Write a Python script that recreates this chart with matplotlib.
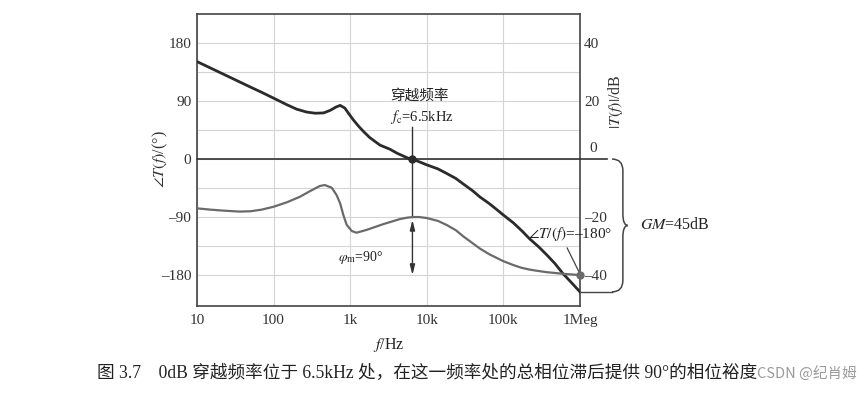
import numpy as np
import matplotlib
matplotlib.use("Agg")
import matplotlib.pyplot as plt
from matplotlib.path import Path
from matplotlib.patches import PathPatch
import matplotlib.transforms as mtransforms

plt.rcParams["font.family"] = ["Liberation Serif", "Noto Sans CJK SC"]
plt.rcParams["mathtext.fontset"] = "stix"

# ── DATA ──────────────────────────────────────────────────────────────────────
mag_freq = [10, 15, 22, 30, 50, 70, 100, 150, 200, 270, 350, 450, 550, 650,
            740, 850, 950, 1100, 1300, 1480, 1800, 2450, 3300, 4100, 5700,
            6500, 10e3, 14e3, 18e3, 24e3, 30e3, 40e3, 49e3, 65e3, 80e3, 100e3,
            135e3, 175e3, 220e3, 290e3, 367e3, 470e3, 600e3, 780e3, 1e6]
mag_db = [33.6, 31.4, 29.3, 27.6, 24.8, 23.0, 21.0, 18.7, 17.2, 16.2, 15.8,
          15.9, 16.8, 17.9, 18.5, 17.6, 15.8, 13.5, 11.2, 9.6, 7.4, 4.8, 3.4,
          2.0, 0.3, 0.0, -2.0, -3.4, -4.9, -6.7, -8.6, -11.0, -13.0, -15.3,
          -17.2, -19.3, -22.0, -24.8, -27.5, -30.3, -33.0, -36.0, -39.5,
          -42.7, -45.8]

ph_freq = [10, 15, 22, 36, 50, 70, 100, 150, 221, 300, 400, 465, 575, 665,
           740, 815, 900, 1050, 1210, 1630, 2700, 4500, 5500, 6500, 8000,
           10e3, 14e3, 18e3, 24e3, 30e3, 49e3, 65e3, 100e3, 135e3, 170e3,
           220e3, 280e3, 367e3, 600e3, 1e6]
ph_deg = [-76.5, -78.5, -80.0, -81.5, -81.0, -78.5, -74.0, -67.0, -58.5,
          -49.7, -41.9, -40.3, -44.5, -55.9, -68.8, -86.9, -102.0, -111.7,
          -114.3, -110.0, -101.0, -93.0, -91.0, -90.0, -90.0, -91.5, -96.0,
          -102.0, -110.5, -120.0, -138.6, -147.5, -158.5, -164.5, -168.5,
          -171.5, -173.5, -175.5, -178.0, -180.0]

fc = 6500
gm_db = 45
x_ticks = [10, 100, 1e3, 1e4, 1e5, 1e6]
x_labels = ["10", "100", "1k", "10k", "100k", "1Meg"]
deg_ticks = [-180, -90, 0, 90, 180]
db_ticks = [-40, -20, 20, 40]

DARK = "#2b2b2b"
GREY = "#6a6a6a"
DB2DEG = 90 / 20   # both axes share the same grid: 20 dB <-> 90 deg

# ── FIGURE ────────────────────────────────────────────────────────────────────
fig = plt.figure(figsize=(8.65, 3.95), dpi=100)
ax = fig.add_axes([0.2277, 0.2253, 0.4428, 0.7392])
ax.set_xscale("log")
ax.set_xlim(10, 1e6)
ax.set_ylim(-228, 225)

ax.set_xticks(x_ticks)
ax.set_xticklabels(x_labels)
ax.xaxis.set_minor_locator(matplotlib.ticker.NullLocator())
ax.set_yticks(deg_ticks)
ax.set_yticklabels([str(t).replace("-", "\u2013") for t in deg_ticks])
ax.set_yticks(np.arange(-180, 181, 45), minor=True)
ax.tick_params(axis="both", which="both", length=0, labelsize=11, colors="#333333")
ax.tick_params(axis="x", pad=6)
ax.tick_params(axis="y", pad=4)
ax.grid(True, which="both", axis="y", color="#d4d4d4", lw=0.8)
ax.grid(True, which="major", axis="x", color="#d4d4d4", lw=0.8)
for s in ax.spines.values():
    s.set_color("#444444")
    s.set_linewidth(1.2)

ax2 = ax.twinx()
ax2.set_ylim(-228 / DB2DEG, 225 / DB2DEG)
ax2.set_yticks(db_ticks)
ax2.set_yticklabels([str(t).replace("-", "\u2013") for t in db_ticks])
ax2.tick_params(axis="y", length=0, labelsize=11, colors="#333333", pad=3)
for s in ax2.spines.values():
    s.set_visible(False)
bt = mtransforms.blended_transform_factory(ax2.transAxes, ax2.transData)
ax2.text(1.025, 1.5, "0", transform=bt, fontsize=11, color="#333333",
         va="bottom", ha="left")

# 0 line, extended past the right spine
ax.plot([10, 2.24e6], [0, 0], color="#333333", lw=1.2, clip_on=False, zorder=3)

# curves (both drawn in degree units on the left axis)
ax.plot(mag_freq, np.array(mag_db) * DB2DEG, color=DARK, lw=2.0, zorder=4)
ax.plot(ph_freq, ph_deg, color=GREY, lw=1.6, zorder=4)

# crossover marker + phase margin arrow
ax.plot([fc], [0], "o", color=DARK, ms=5, zorder=5)
ax.plot([fc, fc], [50, -90], color="#333333", lw=1.0, zorder=3)
ax.annotate("", xy=(fc, -180), xytext=(fc, -90),
            arrowprops=dict(arrowstyle="<|-|>,head_length=0.6,head_width=0.15",
                            color="#333333", lw=1.0, shrinkA=2, shrinkB=0))
ax.text(3.3e3, 99, "穿越频率", fontsize=10.5, va="center", ha="left", color="#222222")
ax.text(3.3e3, 66, "$f_{\\mathrm{c}}$=6.5kHz", fontsize=10.5, va="center", ha="left",
        color="#222222")
ax.text(690, -152, "$\\varphi_{\\mathrm{m}}$=90°", fontsize=10, va="center", ha="left",
        color="#222222")

# -180 deg point at 1 MHz
ax.plot([1e6], [-180], "o", color=GREY, ms=5, zorder=6, clip_on=False)
ax.plot([6.8e5, 9.6e5], [-138, -174], color="#444444", lw=0.9, zorder=3)
ax2.text(2.1e5, -116 / DB2DEG, "$\\angle T/(f)$=\u2013180°", fontsize=11,
         va="center", ha="left", color="#222222", clip_on=False, zorder=5)

# gain margin brace
gm_bot = mag_db[-1]
ax2.plot([1.0, 1.0836], [gm_bot, gm_bot], color="#444444", lw=1.0, transform=bt,
         clip_on=False)
mid = gm_bot / 2
xa, xb, xc = 1.0836, 1.112, 1.125
verts = [(xa, 0), (xb, 0), (xb, -4),
         (xb, mid + 4),
         (xb, mid), (xc, mid),
         (xb, mid), (xb, mid - 4),
         (xb, gm_bot + 4),
         (xb, gm_bot), (xa, gm_bot)]
codes = [Path.MOVETO, Path.CURVE3, Path.CURVE3,
         Path.LINETO,
         Path.CURVE3, Path.CURVE3,
         Path.CURVE3, Path.CURVE3,
         Path.LINETO,
         Path.CURVE3, Path.CURVE3]
ax2.add_patch(PathPatch(Path(verts, codes), transform=bt, fill=False,
                        edgecolor="#444444", lw=1.1, clip_on=False))
ax2.text(1.157, mid, "$GM$=%ddB" % gm_db, transform=bt, fontsize=11.5,
         va="center", ha="left", color="#222222")

# axis titles
ax.set_xlabel("$f$/Hz", fontsize=11.5, color="#222222", labelpad=6)
fig.text(0.185, 0.5975, "$\\angle T(f)$/(°)", rotation=90, fontsize=11.5,
         va="center", ha="center", color="#333333")
fig.text(0.712, 0.742, "$|T(f)|$/dB", rotation=90, fontsize=11.5,
         va="center", ha="center", color="#333333")

# caption + watermark
fig.text(97 / 865, 1 - 373 / 395,
         "图 3.7　0dB 穿越频率位于 6.5kHz 处，在这一频率处的总相位滞后提供 90°的相位裕度",
         fontsize=12.7, va="center", ha="left", color="#222222")
fig.text(757 / 865, 1 - 374 / 395, "CSDN @纪肖姆", family=["Noto Sans CJK SC"],
         fontsize=10.5, va="center", ha="left", color="#9a9a9a")

plt.savefig("out.png", dpi=100)
